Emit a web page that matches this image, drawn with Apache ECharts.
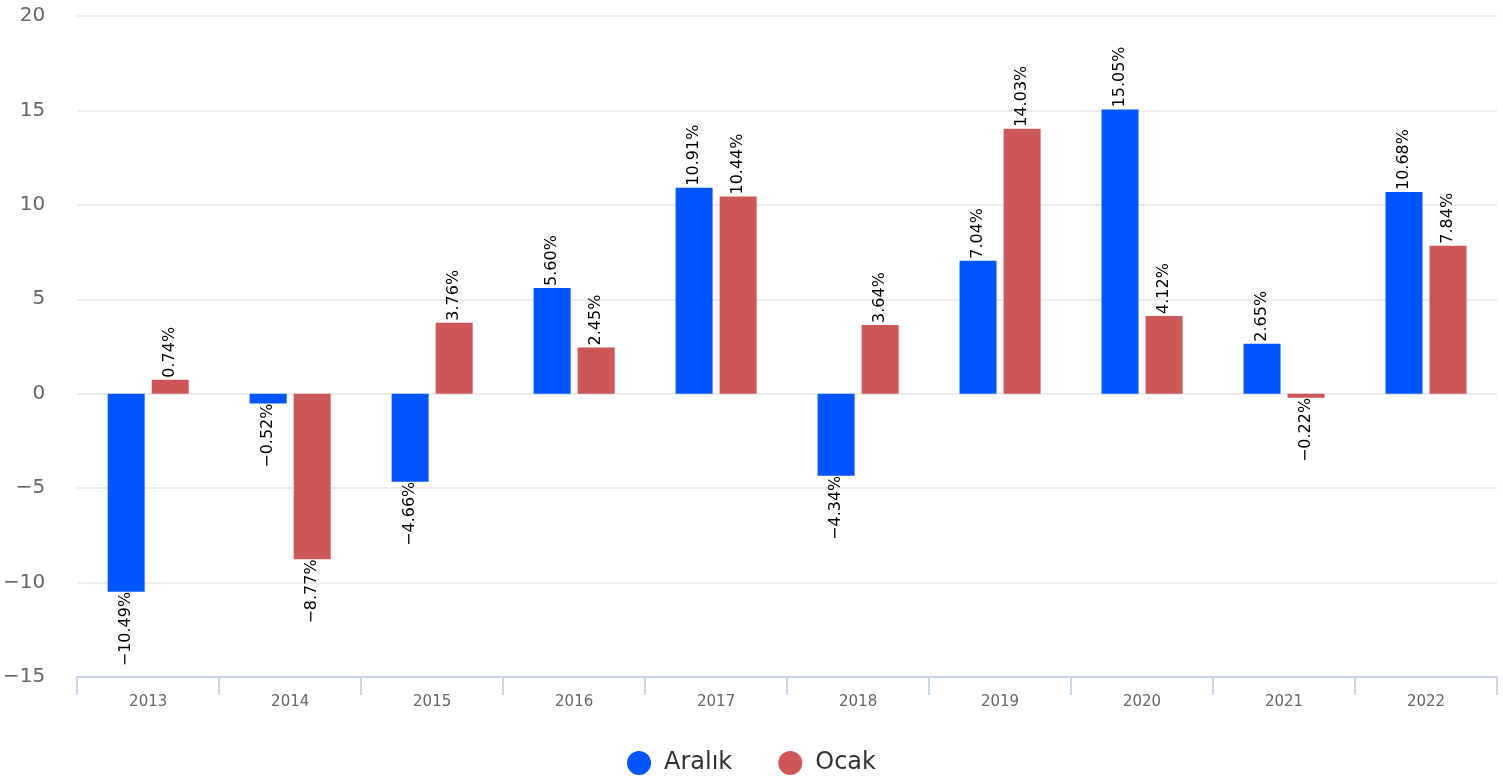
<!DOCTYPE html>
<html>
<head>
<meta charset="utf-8">
<script src="https://cdn.jsdelivr.net/npm/echarts@6/dist/echarts.min.js"></script>
<style>
    html, body { margin: 0; padding: 0; background: #fff; }
    #chart { width: 1503px; height: 782px; }
</style>
</head>
<body>
<div id="chart"></div>
<script>
    const years = ['2013', '2014', '2015', '2016', '2017', '2018', '2019', '2020', '2021', '2022'];
    const aralik = [-10.49, -0.52, -4.66, 5.60, 10.91, -4.34, 7.04, 15.05, 2.65, 10.68];
    const ocak = [0.74, -8.77, 3.76, 2.45, 10.44, 3.64, 14.03, 4.12, -0.22, 7.84];

    const fontFamily = '"DejaVu Sans", Verdana, sans-serif';
    const minus = (s) => s.replace('-', '\u2212');

    // etiket: pozitifte barın üstünden yukarı, negatifte barın altından
    const toData = (arr) => arr.map(v => ({
        value: v,
        label: {align: v >= 0 ? 'left' : 'right'}
    }));

    const labelStyle = {
        show: true,
        position: 'outside',
        rotate: 90,
        verticalAlign: 'middle',
        distance: 1,
        offset: [1, 0],
        color: '#000',
        fontSize: 16,
        fontFamily: fontFamily,
        formatter: (p) => minus(p.value.toFixed(2)) + '%'
    };

    echarts.init(document.getElementById('chart')).setOption({
        animation: false,
        grid: {left: 77, right: 6, top: 16, bottom: 105},
        legend: {
            bottom: 2,
            left: 'center',
            icon: 'circle',
            itemWidth: 24,
            itemHeight: 24,
            itemGap: 46,
            textStyle: {fontSize: 24, color: '#333', fontFamily: fontFamily, padding: [0, 0, 0, 8]},
            data: ['Aralık', 'Ocak']
        },
        xAxis: {
            type: 'category',
            data: years,
            position: 'bottom',
            axisLine: {onZero: false, lineStyle: {color: '#ccd6eb', width: 2}},
            axisTick: {show: true, length: 18, lineStyle: {color: '#ccd6eb', width: 2}},
            axisLabel: {color: '#666', fontSize: 15, margin: 18, fontFamily: fontFamily},
            splitLine: {show: false}
        },
        yAxis: {
            type: 'value',
            min: -15,
            max: 20,
            interval: 5,
            axisLine: {show: false},
            axisTick: {show: false},
            axisLabel: {
                color: '#666',
                fontSize: 20,
                margin: 32,
                fontFamily: fontFamily,
                formatter: (v) => minus(String(v))
            },
            splitLine: {lineStyle: {color: '#e6e6e6', width: 1.5}}
        },
        series: [
            {
                name: 'Aralık',
                type: 'bar',
                barWidth: 37,
                barGap: '19%',
                itemStyle: {color: '#0055ff'},
                label: labelStyle,
                data: toData(aralik)
            },
            {
                name: 'Ocak',
                type: 'bar',
                barWidth: 37,
                barGap: '19%',
                itemStyle: {color: '#cd5757'},
                label: labelStyle,
                data: toData(ocak)
            }
        ]
    });
</script>
</body>
</html>
